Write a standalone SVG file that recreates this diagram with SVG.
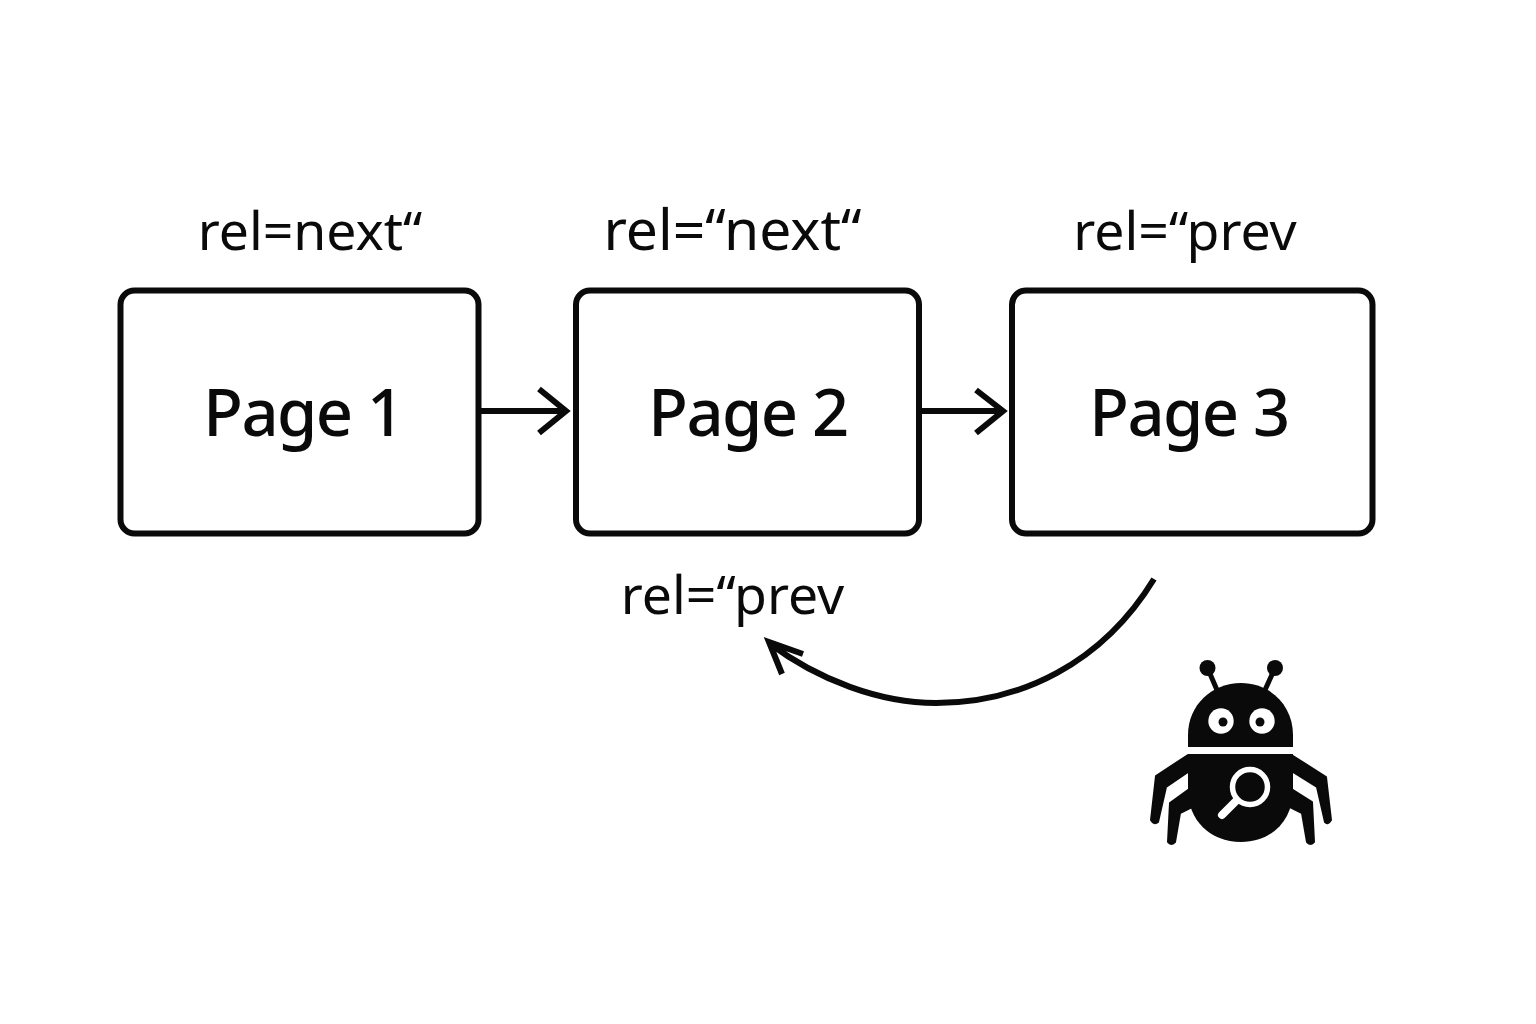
<svg xmlns="http://www.w3.org/2000/svg" width="1536" height="1024" viewBox="0 0 1536 1024">
<style>
.box{fill:#fff;stroke:#0a0a0a;stroke-width:6}
.title{font-family:"Noto Sans",sans-serif;font-size:65px;font-weight:500;letter-spacing:-1.500px;fill:#0a0a0a;text-anchor:middle}
.lab{font-family:"Noto Sans",sans-serif;font-size:53.500px;fill:#0a0a0a;text-anchor:middle}
.c{fill:none;stroke:#0a0a0a;stroke-width:6}
</style>
<rect width="1536" height="1024" fill="#fff"/>
<g id="connectors">
<path class="c" d="M481 411H564M539 389L566 411L539 433"/>
<path class="c" d="M920 411H1000M976 390L1003 411L976 433"/>
<path class="c" d="M1154 579C1102 664 1020 703 936 703C880 703 818 680 769 643M803 654L769 642L782 674"/>
</g>
<g id="page1"><rect class="box" x="120.500" y="290.500" width="358" height="243" rx="14"/><text class="title" x="303" y="436">Page 1</text></g>
<g id="page2"><rect class="box" x="576" y="290.500" width="343" height="243" rx="14"/><text class="title" x="748" y="436">Page 2</text></g>
<g id="page3"><rect class="box" x="1012" y="290.500" width="360.500" height="243" rx="14"/><text class="title" x="1189" y="436">Page 3</text></g>
<g id="labels">
<text class="lab" x="310" y="250">rel=next“</text>
<text class="lab" x="732.500" y="250" style="font-size:57px">rel=“next“</text>
<text class="lab" x="1185" y="250">rel=“prev</text>
<text class="lab" x="732.500" y="614">rel=“prev</text>
</g>
<g id="bug">
<path fill="#0a0a0a" d="M1188 747V735C1188 705 1212 683 1241 683C1270 683 1293 705 1293 735V747Z"/>
<path fill="#0a0a0a" d="M1188 754H1293V790C1293 820 1272 842 1241 842C1210 842 1188 820 1188 790Z"/>
<path fill="#0a0a0a" stroke="#0a0a0a" stroke-width="2" stroke-linejoin="round" d="M1188 755L1156 776L1151 820Q1154 825 1158 822L1166 787L1188 772ZM1188 790L1170 803L1168 842Q1171 846 1175 842L1180 813L1192 807ZM1293 756L1326 777L1331 820Q1328 825 1325 822L1317 787L1293 772ZM1293 790L1312 802L1314 842Q1311 846 1307 842L1302 813L1290 807Z"/>
<path stroke="#0a0a0a" stroke-width="5" fill="none" d="M1207.500 668L1217 690M1275 668L1265 690"/>
<circle cx="1207.500" cy="668" r="8" fill="#0a0a0a"/><circle cx="1275" cy="668" r="8" fill="#0a0a0a"/>
<circle cx="1221" cy="721" r="12.700" fill="#fff"/><circle cx="1262" cy="721" r="12.700" fill="#fff"/>
<circle cx="1223" cy="722" r="4.500" fill="#0a0a0a"/><circle cx="1260" cy="722" r="4.500" fill="#0a0a0a"/>
<circle cx="1250" cy="787" r="17.500" fill="none" stroke="#fff" stroke-width="5.500"/>
<path d="M1236 801L1222 815" stroke="#fff" stroke-width="8" stroke-linecap="round"/>
</g>
</svg>
